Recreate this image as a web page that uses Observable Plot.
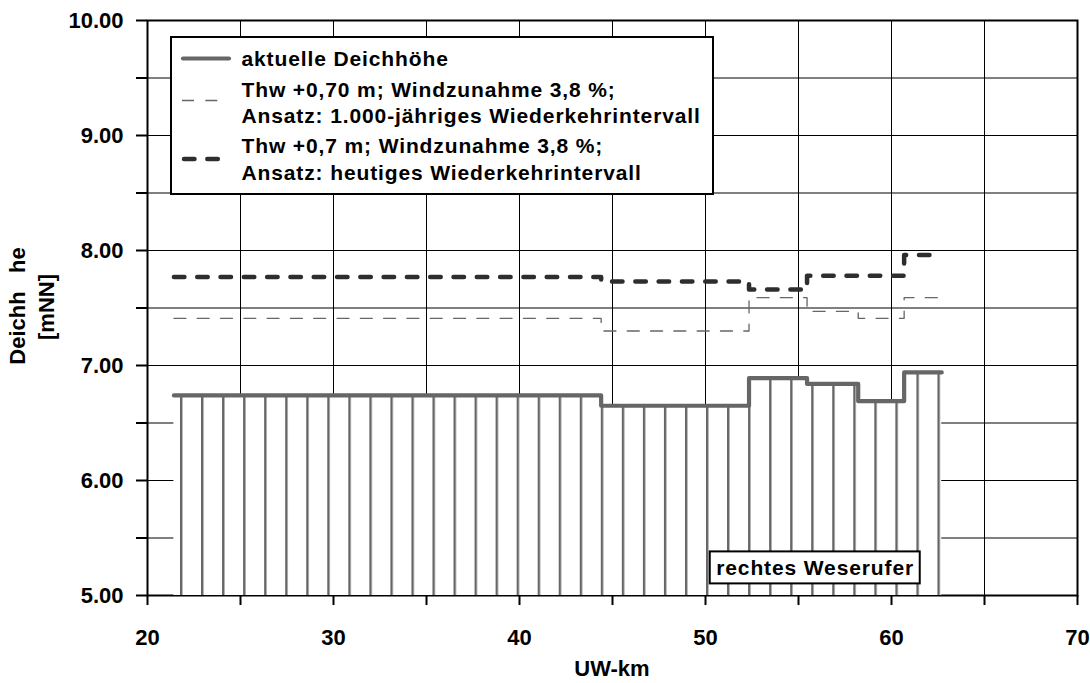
<!DOCTYPE html>
<html>
<head>
<meta charset="utf-8">
<script src="https://cdn.jsdelivr.net/npm/d3@7"></script>
<script src="https://cdn.jsdelivr.net/npm/@observablehq/plot@0.6"></script>
<style>
  html, body { margin: 0; padding: 0; background: #fff; }
  #chart svg { display: block; }
</style>
</head>
<body>
<div id="chart"></div>
<script>
// River-km where a dike section begins (last entry closes the final section)
const sectionKm = [21.42, 44.39, 52.34, 55.46, 58.21, 60.68, 62.70];

// Dike heights [mNN] per section
const currentHeight = [6.74, 6.65, 6.89, 6.84, 6.69, 6.94];
const height1000yr  = [7.41, 7.30, 7.59, 7.47, 7.41, 7.59];
const heightToday   = [7.77, 7.73, 7.66, 7.78, 7.78, 7.96];

// Legend entries
const labelCurrent = ["aktuelle Deichhöhe"];
const label1000yr  = ["Thw +0,70 m; Windzunahme 3,8 %;", "Ansatz: 1.000-jähriges Wiederkehrintervall"];
const labelToday   = ["Thw +0,7 m; Windzunahme 3,8 %;", "Ansatz: heutiges Wiederkehrintervall"];
const bankLabel = "rechtes Weserufer";

// Axes
const xTicks = [20, 25, 30, 35, 40, 45, 50, 55, 60, 65, 70];
const xTickLabels = [20, 30, 40, 50, 60, 70];
const yTicks = [5, 5.5, 6, 6.5, 7, 7.5, 8, 8.5, 9, 9.5, 10];
const yTickLabels = [5, 6, 7, 8, 9, 10];
const xTitle = "UW-km";
const yTitle = ["Deichh\u00a0\u00a0\u00a0he", "[mNN]"];

// step series: each section value holds until the next break, last value repeated at the end
function steps(values) {
  return sectionKm.map((km, i) => ({km, h: values[Math.min(i, values.length - 1)]}));
}
const current = steps(currentHeight);
const yr1000 = steps(height1000yr);
const today = steps(heightToday);

const W = 1090, H = 683;
const FONT = "'Liberation Sans', Arial, Helvetica, sans-serif";
const COL_CURRENT = "#666666", COL_1000 = "#666666", COL_TODAY = "#2e2e2e";
const DASH_THIN = "12,11.3", DASH_THICK = "10.5,12.8";
const HATCH_PITCH = 21.04, HATCH_START = 180;

const chart = Plot.plot({
  width: W,
  height: H,
  marginLeft: 147,
  marginRight: 13,
  marginTop: 20,
  marginBottom: 88,
  x: {domain: [20, 70]},
  y: {domain: [5, 10]},
  style: {fontFamily: FONT, fontWeight: "bold", fontSize: "22px", color: "#000", background: "#fff", overflow: "visible"},
  marks: [
    Plot.gridX(xTicks, {stroke: "#000", strokeOpacity: 1, strokeWidth: 1}),
    Plot.gridY(yTicks, {stroke: "#000", strokeOpacity: 1, strokeWidth: 1}),
    Plot.frame({stroke: "#000", strokeWidth: 2}),
    // hatched area under the current dike crest
    Plot.areaY(current, {x: "km", y1: 5, y2: "h", curve: "step-after", fill: "url(#hatch)"}),
    Plot.line(yr1000, {x: "km", y: "h", curve: "step-after", stroke: COL_1000, strokeWidth: 1.3, strokeDasharray: DASH_THIN}),
    Plot.line(today, {x: "km", y: "h", curve: "step-after", stroke: COL_TODAY, strokeWidth: 4.5, strokeDasharray: DASH_THICK, strokeLinecap: "round", strokeLinejoin: "round"}),
    Plot.line(current, {x: "km", y: "h", curve: "step-after", stroke: COL_CURRENT, strokeWidth: 4.2, strokeLinecap: "round", strokeLinejoin: "round"}),
    Plot.axisX(xTicks, {
      tickSize: 10, strokeWidth: 2, tickPadding: 24, fontSize: 22, fontWeight: "bold",
      tickFormat: d => xTickLabels.includes(d) ? String(d) : "", label: null
    }),
    Plot.axisY(yTicks, {
      tickSize: 11, strokeWidth: 2, tickPadding: 13, fontSize: 22, fontWeight: "bold",
      tickFormat: d => yTickLabels.includes(d) ? d.toFixed(2) : "", label: null
    })
  ]
});

document.getElementById("chart").appendChild(chart);

const svg = d3.select(chart);
const sx = chart.scale("x"), sy = chart.scale("y");

// vertical hatch: gray lines on white
const pat = svg.insert("defs", ":first-child").append("pattern")
  .attr("id", "hatch").attr("patternUnits", "userSpaceOnUse")
  .attr("x", HATCH_START).attr("y", 0).attr("width", HATCH_PITCH).attr("height", H);
pat.append("rect").attr("width", HATCH_PITCH).attr("height", H).attr("fill", "#fff");
pat.append("rect").attr("x", 0).attr("y", 0).attr("width", 2.4).attr("height", H).attr("fill", "#666");

// legend box in the upper left of the plot area
const lg = svg.append("g").attr("font-family", FONT).attr("font-weight", "bold").attr("font-size", 21)
  .attr("letter-spacing", 0.88).attr("text-anchor", "start");
lg.append("rect").attr("x", 171).attr("y", 37).attr("width", 542).attr("height", 157)
  .attr("fill", "#fff").attr("stroke", "#000").attr("stroke-width", 2);
lg.append("line").attr("x1", 183).attr("x2", 229).attr("y1", 58.5).attr("y2", 58.5)
  .attr("stroke", COL_CURRENT).attr("stroke-width", 4.2).attr("stroke-linecap", "round");
lg.append("line").attr("x1", 182).attr("x2", 220).attr("y1", 100.5).attr("y2", 100.5)
  .attr("stroke", COL_1000).attr("stroke-width", 1.3).attr("stroke-dasharray", DASH_THIN);
lg.append("line").attr("x1", 184).attr("x2", 220).attr("y1", 159).attr("y2", 159)
  .attr("stroke", COL_TODAY).attr("stroke-width", 4.5).attr("stroke-dasharray", DASH_THICK).attr("stroke-linecap", "round");
const legendLines = [
  [labelCurrent[0], 65.7],
  [label1000yr[0], 96.7], [label1000yr[1], 122.7],
  [labelToday[0], 153.3], [labelToday[1], 179.5]
];
for (const [t, yb] of legendLines) {
  lg.append("text").attr("x", 241.5).attr("y", yb).attr("text-anchor", "start").attr("fill", "#000").text(t);
}

// bank annotation box
const bx = sx.apply(55.9), by = sy.apply(5.24);
const bank = svg.append("g").attr("font-family", FONT).attr("font-weight", "bold").attr("font-size", 21).attr("letter-spacing", 0.88);
bank.append("rect").attr("x", bx - 105).attr("y", by - 16).attr("width", 210).attr("height", 32)
  .attr("fill", "#fff").attr("stroke", "#000").attr("stroke-width", 2);
bank.append("text").attr("x", bx + 0.4).attr("y", by).attr("dy", "0.36em").attr("text-anchor", "middle").attr("fill", "#000").text(bankLabel);

// axis titles
const titles = svg.append("g").attr("font-family", FONT).attr("font-weight", "bold").attr("font-size", 22).attr("fill", "#000");
titles.append("text").attr("x", (sx.range[0] + sx.range[1]) / 2).attr("y", 668).attr("dy", "0.36em")
  .attr("text-anchor", "middle").text(xTitle);
titles.append("text").attr("transform", "translate(17.5,306) rotate(-90)").attr("dy", "0.36em")
  .attr("text-anchor", "middle").text(yTitle[0]);
titles.append("text").attr("transform", "translate(46.5,307) rotate(-90)").attr("dy", "0.36em")
  .attr("text-anchor", "middle").text(yTitle[1]);
</script>
</body>
</html>
